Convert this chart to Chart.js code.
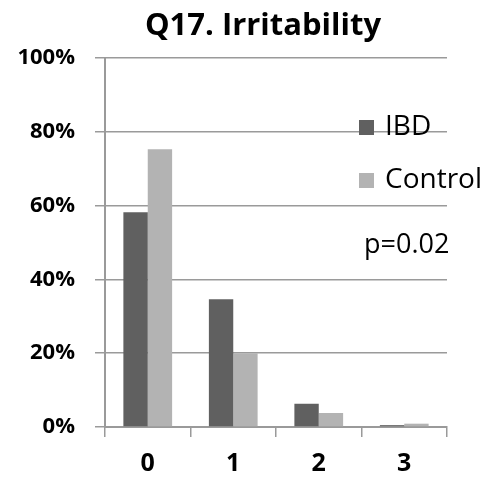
<!DOCTYPE html>
<html>
<head>
<meta charset="utf-8">
<script src="https://cdn.jsdelivr.net/npm/chart.js@4.4.0/dist/chart.umd.min.js"></script>
<style>
  html, body { margin: 0; padding: 0; background: #fff; }
  #wrap { width: 488px; height: 485px; }
</style>
</head>
<body>
<div id="wrap"><canvas id="chart"></canvas></div>
<script>
const categories = ['0', '1', '2', '3'];
const ibdValues = [58.2, 34.6, 6.3, 0.5];
const controlValues = [75.3, 20.0, 3.8, 0.9];
const yTicks = [0, 20, 40, 60, 80, 100];
const titleText = 'Q17. Irritability';
const pValueText = 'p=0.02';

const FONT = '"Open Sans", Lato, sans-serif';
const axisColor = '#9a9a9a';

// title, legend and p-value drawn over the chart like the original
const overlay = {
  id: 'overlay',
  afterDraw(chart) {
    const { ctx, chartArea } = chart;
    ctx.save();
    ctx.fillStyle = '#000';
    ctx.textBaseline = 'middle';

    ctx.font = `bold 31px ${FONT}`;
    ctx.textAlign = 'center';
    ctx.fillText(titleText, chartArea.left + 158, 26);

    ctx.textAlign = 'left';
    ctx.font = `28px ${FONT}`;
    const lx = chartArea.right - 88;
    chart.data.datasets.forEach((ds, i) => {
      const y = chartArea.top + 69 + i * 53;
      ctx.fillStyle = ds.backgroundColor;
      ctx.fillRect(lx, y - 7, 15, 15);
      ctx.fillStyle = '#000';
      ctx.fillText(ds.label, lx + 26, y);
    });
    ctx.font = `27px ${FONT}`;
    ctx.fillText(pValueText, lx + 5, chartArea.top + 187);
    ctx.restore();
  }
};

new Chart(document.getElementById('chart'), {
  type: 'bar',
  data: {
    labels: categories,
    datasets: [
      { label: 'IBD', data: ibdValues, backgroundColor: '#606060' },
      { label: 'Control', data: controlValues, backgroundColor: '#b3b3b3' }
    ]
  },
  options: {
    responsive: true,
    maintainAspectRatio: false,
    animation: false,
    layout: { padding: { top: 58, right: 41, left: 0, bottom: 0 } },
    plugins: {
      legend: { display: false },
      title: { display: false },
      tooltip: { enabled: false }
    },
    datasets: {
      bar: { categoryPercentage: 0.57, barPercentage: 1.0 }
    },
    scales: {
      x: {
        grid: { drawOnChartArea: false, drawTicks: true, tickLength: 10, color: axisColor, lineWidth: 1.5, offset: true },
        border: { color: axisColor, width: 2 },
        ticks: { color: '#000', font: { family: FONT, size: 25, weight: 'bold' }, padding: 12 },
        afterFit(scale) { scale.height = 58; }
      },
      y: {
        min: 0,
        max: 100,
        afterBuildTicks(scale) { scale.ticks = yTicks.map(v => ({ value: v })); },
        grid: { color: axisColor, lineWidth: 1.5, tickLength: 10 },
        border: { color: axisColor, width: 2 },
        ticks: {
          color: '#000',
          font: { family: FONT, size: 22, weight: 'bold' },
          padding: 20,
          callback: v => v + '%'
        },
        afterFit(scale) { scale.width = 105; }
      }
    }
  },
  plugins: [overlay]
});
</script>
</body>
</html>
